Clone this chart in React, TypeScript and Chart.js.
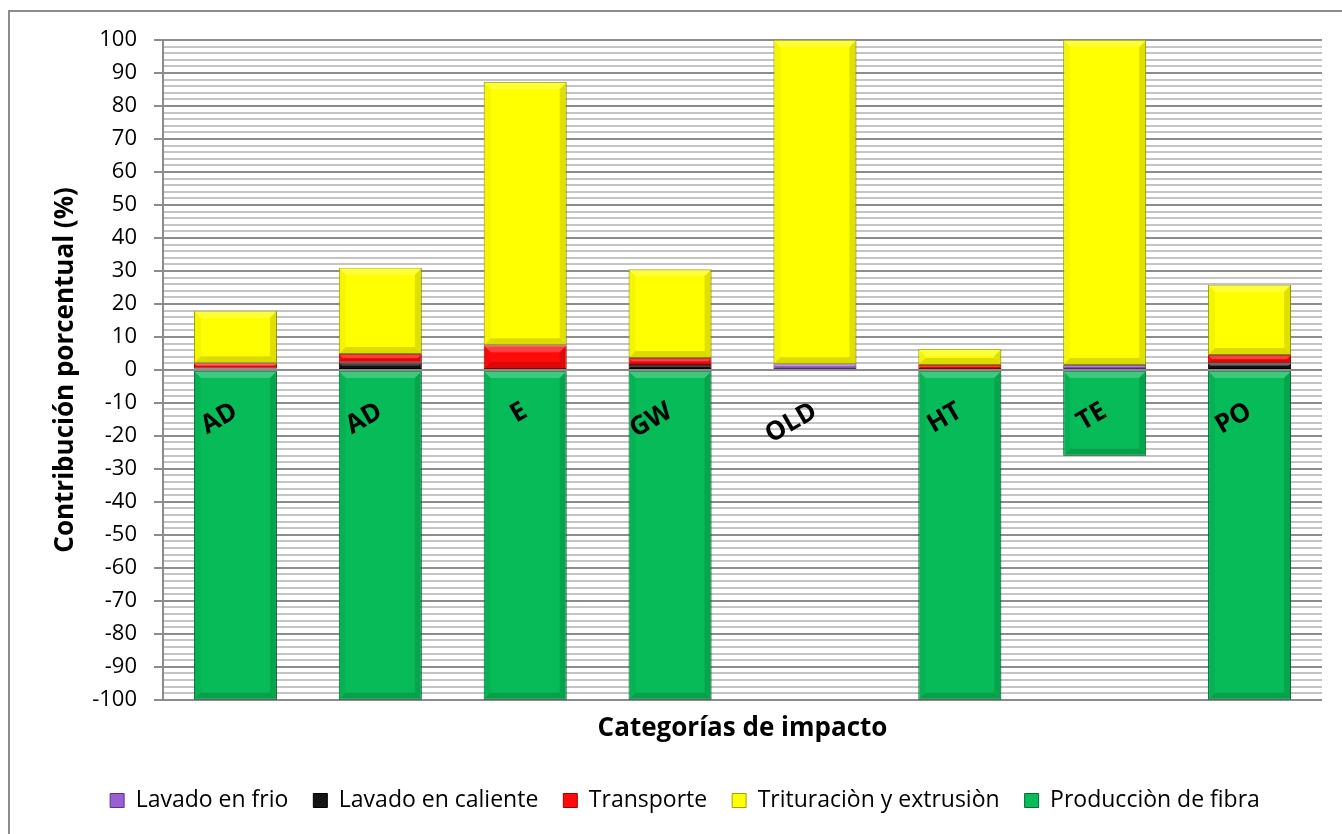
import React, { useEffect, useRef } from 'react';
import { Chart, registerables } from 'chart.js';

Chart.register(...registerables);

const categories = ['AD', 'AD', 'E', 'GW', 'OLD', 'HT', 'TE', 'PO'];
const lavadoFrio = [0, 0, 0, 0, 1.7, 0, 1.5, 0];
const lavadoCaliente = [0.4, 2.2, 0.3, 1.5, 0, 0.3, 0, 2.0];
const transporte = [1.6, 2.6, 7.2, 2.1, 0, 1.2, 0, 2.5];
const trituracion = [15.9, 26.2, 79.8, 26.9, 98.3, 4.8, 98.5, 21.3];
const produccion = [-100, -100, -100, -100, null, -100, -26, -100];

const seriesNames = ['Lavado en frio', 'Lavado en caliente', 'Transporte', 'Trituraciòn y extrusiòn', 'Producciòn de fibra'];
const seriesColors = ['#9a5fd0', '#141414', '#ff0a0a', '#ffff00', '#07bb58'];
const seriesBorders = ['#5f2f8c', '#000000', '#a00000', '#a0a000', '#056b33'];

const yMin = -100;
const yMax = 100;
const yStep = 2;
const yLabelStep = 10;

const FONT = "'Open Sans', 'Liberation Sans', sans-serif";

const bevelPlugin = {
  id: 'bevel',
  afterDatasetsDraw(chart: any) {
    const ctx = chart.ctx;
    chart.getSortedVisibleDatasetMetas().forEach((meta: any) => {
      meta.data.forEach((el: any) => {
        const p = el.getProps(['x', 'y', 'base', 'width'], true);
        if (p.y == null || isNaN(p.y)) return;
        const top = Math.min(p.y, p.base);
        const bottom = Math.max(p.y, p.base);
        const left = p.x - p.width / 2;
        const right = p.x + p.width / 2;
        const h = bottom - top;
        if (h < 1) return;
        const b = Math.min(7, h / 2, p.width / 2);
        const poly = (pts: number[][], fill: string) => {
          ctx.beginPath();
          ctx.moveTo(pts[0][0], pts[0][1]);
          for (let i = 1; i < pts.length; i++) ctx.lineTo(pts[i][0], pts[i][1]);
          ctx.closePath();
          ctx.fillStyle = fill;
          ctx.fill();
        };
        ctx.save();
        poly([[left, top], [right, top], [right - b, top + b], [left + b, top + b]], 'rgba(255,255,255,0.22)');
        poly([[left, bottom], [right, bottom], [right - b, bottom - b], [left + b, bottom - b]], 'rgba(0,0,0,0.14)');
        poly([[left, top], [left + b, top + b], [left + b, bottom - b], [left, bottom]], 'rgba(0,0,0,0.04)');
        poly([[right, top], [right - b, top + b], [right - b, bottom - b], [right, bottom]], 'rgba(0,0,0,0.12)');
        ctx.restore();
      });
    });
  },
};

export default function App() {
  const canvasRef = useRef<HTMLCanvasElement | null>(null);

  useEffect(() => {
    const canvas = canvasRef.current;
    if (!canvas) return;
    const values = [lavadoFrio, lavadoCaliente, transporte, trituracion, produccion];
    const chart = new Chart(canvas, {
      type: 'bar',
      data: {
        labels: categories,
        datasets: values.map((vals, i) => ({
          label: seriesNames[i],
          data: vals,
          backgroundColor: seriesColors[i],
          borderColor: seriesBorders[i],
          borderWidth: 1,
          borderSkipped: false,
          barPercentage: 0.573,
          categoryPercentage: 1,
          xAxisID: 'x',
          yAxisID: 'y',
        })),
      },
      options: {
        animation: false,
        responsive: false,
        maintainAspectRatio: false,
        layout: { padding: { left: 48, right: 20, top: 40, bottom: 12 } },
        font: { family: FONT },
        scales: {
          x: {
            type: 'category',
            stacked: true,
            position: { y: 0 } as any,
            offset: true,
            grid: { display: false },
            border: { display: false },
            ticks: {
              z: 2,
              color: '#000',
              font: { family: FONT, size: 26, weight: 'bold' },
              minRotation: 30,
              maxRotation: 30,
              autoSkip: false,
              padding: 18,
            },
          },
          x2: {
            type: 'category',
            labels: categories,
            position: 'bottom',
            grid: { display: false, drawTicks: false },
            border: { display: false },
            ticks: { display: false },
            title: {
              display: true,
              text: 'Categorías de impacto',
              color: '#000',
              font: { family: FONT, size: 26, weight: 'bold' },
              padding: { top: 13, bottom: 20 },
            },
          },
          y: {
            type: 'linear',
            stacked: true,
            min: yMin,
            max: yMax,
            afterFit: (scale: any) => {
              scale.width = 115;
            },
            ticks: {
              stepSize: yStep,
              autoSkip: false,
              color: '#000',
              padding: 17,
              font: { family: FONT, size: 22 },
              callback: (v: any) => (Math.round(Number(v)) % yLabelStep === 0 ? String(v) : ''),
            },
            grid: {
              color: (c: any) => (c.tick && Math.round(c.tick.value) % yLabelStep === 0 ? '#8c8c8c' : '#c4c4c4'),
              tickColor: (c: any) => (c.tick && Math.round(c.tick.value) % yLabelStep === 0 ? '#8c8c8c' : 'rgba(0,0,0,0)'),
              lineWidth: 2,
              tickLength: 9,
            },
            border: { display: true, color: '#8c8c8c', width: 2 },
            title: {
              display: true,
              text: 'Contribución porcentual (%)',
              color: '#000',
              font: { family: FONT, size: 26, weight: 'bold' },
              padding: { top: 2, bottom: 0 },
            },
          },
        },
        plugins: {
          legend: {
            display: true,
            position: 'bottom',
            labels: {
              color: '#000',
              font: { family: FONT, size: 23 },
              boxWidth: 14,
              boxHeight: 14,
              padding: 25,
            },
          },
          tooltip: { enabled: false },
          title: { display: false },
        },
      } as any,
      plugins: [bevelPlugin],
    });
    return () => chart.destroy();
  }, []);

  return (
    <div style={{ position: 'fixed', left: 0, top: 0, width: 1342, height: 834, overflow: 'hidden', background: '#fff' }}>
      <div
        style={{
          position: 'absolute',
          left: 8,
          top: 10,
          width: 1400,
          height: 900,
          border: '2px solid #8c8c8c',
          boxSizing: 'border-box',
        }}
      />
      <canvas ref={canvasRef} width={1342} height={834} style={{ position: 'absolute', left: 0, top: 0 }} />
    </div>
  );
}
